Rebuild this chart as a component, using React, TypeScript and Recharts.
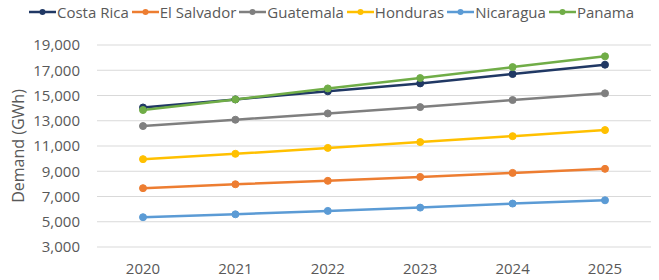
import { LineChart, Line, XAxis, YAxis, CartesianGrid, Legend } from 'recharts';

const years = ['2020', '2021', '2022', '2023', '2024', '2025'];
const costaRica = [14050, 14690, 15330, 15960, 16700, 17440];
const elSalvador = [7660, 7970, 8240, 8550, 8870, 9190];
const guatemala = [12580, 13080, 13580, 14080, 14640, 15170];
const honduras = [9960, 10380, 10850, 11310, 11780, 12260];
const nicaragua = [5360, 5590, 5860, 6120, 6440, 6700];
const panama = [13850, 14690, 15560, 16380, 17250, 18100];
const yTicks = [3000, 5000, 7000, 9000, 11000, 13000, 15000, 17000, 19000];

const series = [
  { key: 'Costa Rica', values: costaRica, color: '#203864' },
  { key: 'El Salvador', values: elSalvador, color: '#ED7D31' },
  { key: 'Guatemala', values: guatemala, color: '#7F7F7F' },
  { key: 'Honduras', values: honduras, color: '#FFC000' },
  { key: 'Nicaragua', values: nicaragua, color: '#5B9BD5' },
  { key: 'Panama', values: panama, color: '#70AD47' },
];

const data = years.map((year, i) => {
  const row: Record<string, string | number> = { year };
  series.forEach((s) => {
    row[s.key] = s.values[i];
  });
  return row;
});

const FONT = '"Open Sans", "Noto Sans", sans-serif';

function LegendContent() {
  return (
    <div style={{ display: 'flex', alignItems: 'center', height: 20, paddingLeft: 29, fontFamily: FONT, fontSize: 15, color: '#595959' }}>
      {series.map((s) => (
        <div key={s.key} style={{ display: 'flex', alignItems: 'center', marginRight: 3 }}>
          <svg width={27} height={10} style={{ marginRight: 1 }}>
            <line x1={0} y1={5} x2={27} y2={5} stroke={s.color} strokeWidth={2.5} />
            <circle cx={13.5} cy={5} r={3} fill={s.color} />
          </svg>
          <span>{s.key}</span>
        </div>
      ))}
    </div>
  );
}

export default function App() {
  return (
    <div style={{ position: 'absolute', left: 0, top: 0, width: 659, height: 280, background: '#fff' }}>
      <LineChart width={659} height={280} data={data} margin={{ top: 25, right: 8, bottom: 0, left: 0 }}>
        <CartesianGrid vertical={false} stroke="#D9D9D9" strokeWidth={1} />
        <XAxis
          dataKey="year"
          axisLine={false}
          tickLine={false}
          padding={{ left: 46, right: 46 }}
          height={33}
          tickMargin={10}
          tick={{ fontSize: 15, fill: '#595959', fontFamily: FONT }}
        />
        <YAxis
          domain={[3000, 19000]}
          ticks={yTicks}
          width={97}
          axisLine={false}
          tickLine={false}
          tickMargin={11}
          tickFormatter={(v: number) => v.toLocaleString('en-US')}
          tick={{ fontSize: 15, fill: '#595959', fontFamily: FONT }}
          label={{
            value: 'Demand (GWh)',
            angle: -90,
            position: 'insideLeft',
            offset: 18,
            style: { textAnchor: 'middle', fontSize: 16, fill: '#595959', fontFamily: FONT },
          }}
        />
        <Legend verticalAlign="top" align="left" content={<LegendContent />} wrapperStyle={{ top: 2, left: 0 }} />
        {series.map((s) => (
          <Line
            key={s.key}
            dataKey={s.key}
            stroke={s.color}
            strokeWidth={2.5}
            dot={{ r: 3.5, fill: s.color, stroke: s.color, strokeWidth: 1 }}
            isAnimationActive={false}
          />
        ))}
      </LineChart>
    </div>
  );
}
